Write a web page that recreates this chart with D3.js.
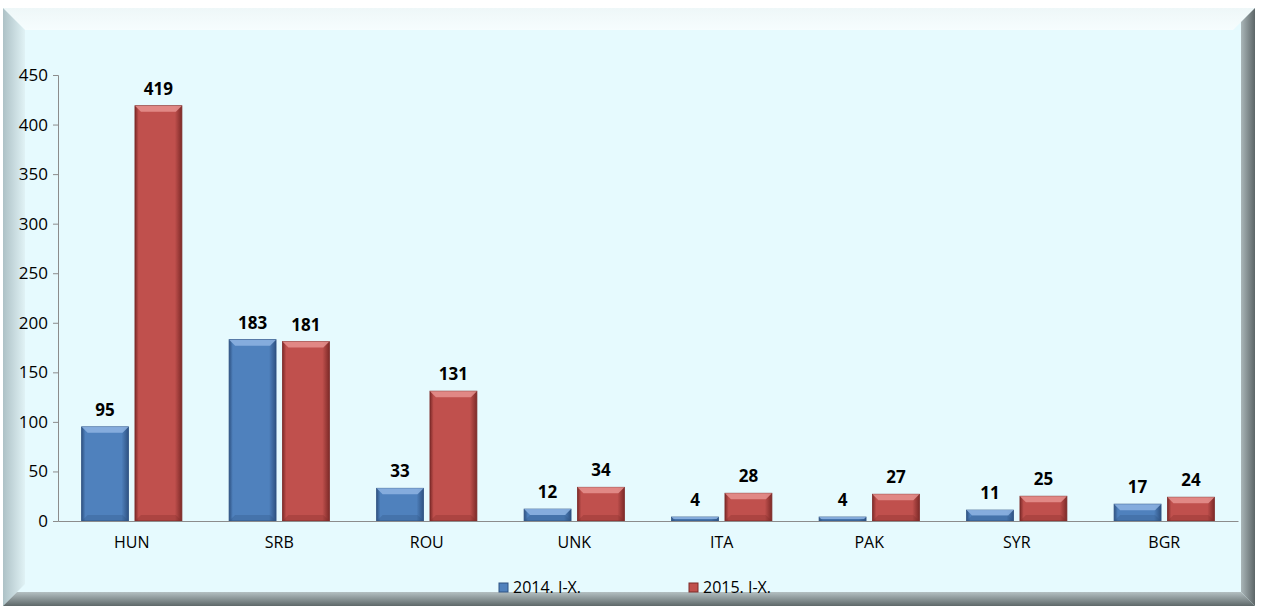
<!DOCTYPE html>
<html>
<head>
<meta charset="utf-8">
<script src="https://cdn.jsdelivr.net/npm/d3@7"></script>
<style>
  body { margin: 0; background: #fff; }
  svg { display: block; font-family: "Open Sans", "Liberation Sans", sans-serif; }
</style>
</head>
<body>
<div id="chart"></div>
<script>
const categories = ["HUN", "SRB", "ROU", "UNK", "ITA", "PAK", "SYR", "BGR"];
const seriesNames = ["2014. I-X.", "2015. I-X."];
const values2014 = [95, 183, 33, 12, 4, 4, 11, 17];
const values2015 = [419, 181, 131, 34, 28, 27, 25, 24];
const yTicks = [0, 50, 100, 150, 200, 250, 300, 350, 400, 450];

const width = 1261, height = 614;
const margin = {top: 75, right: 23, bottom: 93, left: 58};

const svg = d3.select("#chart").append("svg")
    .attr("width", width)
    .attr("height", height);

const defs = svg.append("defs");

// bevelled frame gradients
const lg = (id, x1, y1, x2, y2, stops) => {
    const g = defs.append("linearGradient").attr("id", id)
        .attr("x1", x1).attr("y1", y1).attr("x2", x2).attr("y2", y2);
    stops.forEach(s => g.append("stop").attr("offset", s[0]).attr("stop-color", s[1]));
};
lg("leftEdge", 0, 0, 1, 0, [[0, "#9fb3b8"], [1, "#dff0f3"]]);
lg("rightEdge", 0, 0, 1, 0, [[0, "#aab6b8"], [1, "#5d6668"]]);
lg("bottomEdge", 0, 0, 0, 1, [[0, "#b4c0c2"], [1, "#5e6869"]]);
lg("topEdge", 0, 0, 0, 1, [[0, "#eef7f8"], [1, "#f6fdfe"]]);

const colors = ["#4f81bd", "#c0504d"];
const darks = ["#2e5282", "#7d2a28"];
const lights = ["#8eb4e3", "#e6928f"];
colors.forEach((c, i) => {
    lg("barH" + i, 0, 0, 1, 0, [[0, darks[i]], [0.08, c], [0.85, c], [1, darks[i]]]);
});

// frame
const fx = 3, fy = 8, fw = 1252, fh = 598, b = 22;
svg.append("rect").attr("x", fx).attr("y", fy).attr("width", fw).attr("height", fh).attr("fill", "#e6fafe");
svg.append("path").attr("d", `M${fx},${fy}H${fx + fw}L${fx + fw - b},${fy + b}H${fx + b}Z`).attr("fill", "url(#topEdge)");
svg.append("path").attr("d", `M${fx},${fy}L${fx + b},${fy + b}V${fy + fh - b}L${fx},${fy + fh}Z`).attr("fill", "url(#leftEdge)").attr("opacity", 0.8);
svg.append("path").attr("d", `M${fx + fw},${fy}V${fy + fh}L${fx + fw - 14},${fy + fh - 14}V${fy + 14}Z`).attr("fill", "url(#rightEdge)");
svg.append("path").attr("d", `M${fx},${fy + fh}H${fx + fw}L${fx + fw - 14},${fy + fh - 14}H${fx + 14}Z`).attr("fill", "url(#bottomEdge)");
svg.append("rect").attr("x", fx + b).attr("y", fy + b).attr("width", fw - b - 14).attr("height", fh - b - 14).attr("fill", "#e6fafe");

const x0 = d3.scaleBand().domain(categories)
    .range([margin.left, width - margin.right])
    .paddingInner(0.32).paddingOuter(0.16);
const x1 = d3.scaleBand().domain([0, 1]).range([0, x0.bandwidth()]).paddingInner(0.12);
const y = d3.scaleLinear().domain([0, 450]).range([height - margin.bottom, margin.top]);

// y axis
const yAxis = svg.append("g")
    .attr("transform", `translate(${margin.left},0)`)
    .call(d3.axisLeft(y).tickValues(yTicks).tickSize(5).tickPadding(5));
yAxis.attr("font-size", null).attr("font-family", null);
yAxis.select(".domain").attr("stroke", "#8c8c8c");
yAxis.selectAll(".tick line").attr("stroke", "#8c8c8c");
yAxis.selectAll("text").style("font-size", "17px").attr("fill", "#000");

// bars
const series = [values2014, values2015];
const groups = svg.append("g").selectAll("g")
    .data(categories)
    .join("g")
    .attr("transform", d => `translate(${x0(d)},0)`);

groups.each(function (cat, ci) {
    const g = d3.select(this);
    [0, 1].forEach(si => {
        const v = series[si][ci];
        const bx = x1(si), bw = x1.bandwidth();
        const by = y(v), bh = y(0) - y(v);
        g.append("rect").attr("x", bx).attr("y", by).attr("width", bw).attr("height", bh)
            .attr("fill", "url(#barH" + si + ")").attr("stroke", darks[si]).attr("stroke-width", 0.8);
        // top bevel
        const bev = Math.min(6, bh / 2);
        g.append("path")
            .attr("d", `M${bx},${by}H${bx + bw}L${bx + bw - bev},${by + bev}H${bx + bev}Z`)
            .attr("fill", lights[si]).attr("opacity", 0.85);
        g.append("path")
            .attr("d", `M${bx},${by + bh}H${bx + bw}L${bx + bw - bev},${by + bh - bev}H${bx + bev}Z`)
            .attr("fill", darks[si]).attr("opacity", 0.3);
        g.append("text")
            .attr("x", bx + bw / 2)
            .attr("y", by - 11)
            .attr("text-anchor", "middle")
            .style("font-size", "17px").attr("font-weight", "bold")
            .text(v);
    });
});

// x axis
const xAxis = svg.append("g")
    .attr("transform", `translate(0,${y(0)})`)
    .call(d3.axisBottom(x0).tickSize(0).tickPadding(16));
xAxis.attr("font-size", null).attr("font-family", null);
xAxis.select(".domain").attr("stroke", "#8c8c8c");
xAxis.selectAll("text").style("font-size", "16px").attr("fill", "#000");

// legend
const legend = svg.append("g").selectAll("g")
    .data(seriesNames)
    .join("g")
    .attr("transform", (d, i) => `translate(${499 + i * 190},583)`);
legend.append("rect").attr("width", 9).attr("height", 9)
    .attr("fill", (d, i) => colors[i]).attr("stroke", (d, i) => darks[i]);
legend.append("text").attr("x", 14).attr("y", 10)
    .style("font-size", "16px").text(d => d);
</script>
</body>
</html>
